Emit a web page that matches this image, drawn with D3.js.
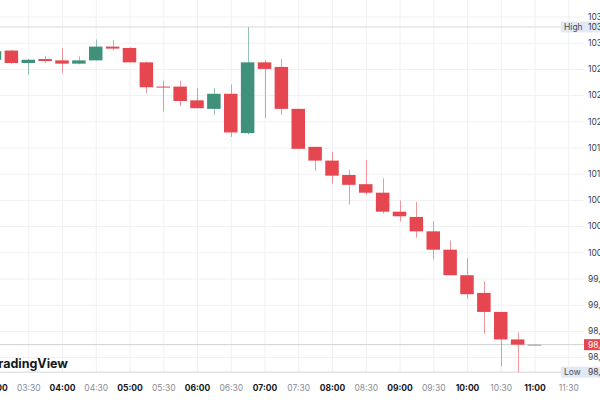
<!DOCTYPE html>
<html><head><meta charset="utf-8">
<script src="https://cdn.jsdelivr.net/npm/d3@7"></script>
<style>html,body{margin:0;padding:0;background:#fff;overflow:hidden}
text{font-family:Inter,"Noto Sans",sans-serif}</style>
</head><body><svg id="c" width="600" height="400"></svg>
<script>
// ---- data (15-minute candles) ----
const times = ["03:00","03:15","03:30","03:45","04:00","04:15","04:30","04:45","05:00","05:15","05:30","05:45","06:00","06:15","06:30","06:45","07:00","07:15","07:30","07:45","08:00","08:15","08:30","08:45","09:00","09:15","09:30","09:45","10:00","10:15","10:30","10:45","11:00"];
const open  = [102.94,103.08,102.89,102.95,102.93,102.88,102.93,103.14,103.12,102.90,102.53,102.53,102.32,102.19,102.42,101.82,102.90,102.83,102.19,101.61,101.40,101.18,101.04,100.91,100.62,100.54,100.32,100.04,99.65,99.38,99.09,98.67,98.59];
const high  = [103.10,103.09,102.95,103.00,103.12,102.99,103.25,103.24,103.13,102.91,102.62,102.62,102.51,102.51,102.56,103.44,102.94,102.95,102.19,101.61,101.53,101.26,101.41,101.13,100.79,100.77,100.47,100.18,99.91,99.56,99.09,98.78,98.60];
const low   = [102.92,102.88,102.71,102.89,102.74,102.87,102.93,103.08,102.90,102.43,102.15,102.23,102.20,102.10,101.76,101.80,102.05,102.10,101.58,101.24,101.05,100.73,100.88,100.59,100.47,100.22,99.89,99.65,99.29,98.76,98.26,98.17,98.59];
const close = [103.07,102.89,102.94,102.92,102.88,102.93,103.14,103.11,102.90,102.52,102.52,102.31,102.20,102.42,101.83,102.90,102.80,102.19,101.58,101.40,101.17,101.03,100.91,100.62,100.55,100.32,100.04,99.65,99.36,99.09,98.67,98.59,98.59];

const priceTicks = [98.4,98.8,99.2,99.6,100.0,100.4,100.8,101.2,101.6,102.0,102.4,102.8,103.2,103.6];
const priceTickLabels = ["98,40","98,80","99,20","99,60","100,00","100,40","100,80","101,20","101,60","102,00","102,40","102,80","103,20","103,60"];
const timeTicks = ["03:00","03:30","04:00","04:30","05:00","05:30","06:00","06:30","07:00","07:30","08:00","08:30","09:00","09:30","10:00","10:30","11:00","11:30"];
const markerNames = ["High","Low"];
const markerValues = [103.44,98.17];
const markerLabels = ["103,44","98,17"];
const lastValue = 98.59;
const lastLabel = "98,59";
const watermark = "TradingView";

// ---- layout ----
const W = 600, H = 400, paneW = 584, paneH = 373;
const UP = "#3f917a", DOWN = "#e5464f", FLAT = "#9a9ca3";
const parse = d3.timeParse("%H:%M");
const x = d3.scaleTime().domain([parse("03:00"), parse("11:30")]).range([-5.5, 568.25]);
const y = d3.scaleLinear().domain([98.4, 103.6]).range([357.1, 16.5]);
const bodyW = (x(parse("03:15")) - x(parse("03:00"))) * 0.8;

const svg = d3.select("#c");
svg.append("rect").attr("width", W).attr("height", H).attr("fill", "#fff");
svg.append("defs").append("clipPath").attr("id", "pane")
  .append("rect").attr("width", paneW).attr("height", paneH);

const pane = svg.append("g").attr("clip-path", "url(#pane)");

// grid
const gx = pane.append("g").attr("transform", `translate(0,${paneH})`)
  .call(d3.axisBottom(x).tickValues(timeTicks.map(parse)).tickSize(-paneH).tickFormat(""));
const gy = pane.append("g")
  .call(d3.axisLeft(y).tickValues(priceTicks).tickSize(-paneW).tickFormat(""));
[gx, gy].forEach(g => { g.select(".domain").remove(); g.selectAll("line").attr("stroke", "#eff0f3").attr("stroke-width", 1); });

// watermark
pane.append("text").attr("x", 68).attr("y", 368).attr("text-anchor", "end")
  .attr("font-size", 12.5).attr("font-weight", 700).attr("fill", "#131722")
  .text(watermark);

// high / low lines and last price line
pane.selectAll("line.hl").data(markerValues).join("line").attr("class", "hl")
  .attr("x1", 0).attr("x2", paneW).attr("y1", d => y(d)).attr("y2", d => y(d))
  .attr("stroke", "#e2e4ea").attr("stroke-width", 1.5);
pane.append("line").attr("x1", 0).attr("x2", paneW).attr("y1", y(lastValue)).attr("y2", y(lastValue))
  .attr("stroke", "#cfd0d4").attr("stroke-width", 1);

// candles
const candles = times.map((t, i) => ({ t: parse(t), o: open[i], h: high[i], l: low[i], c: close[i] }));
const col = d => d.c > d.o ? UP : d.c < d.o ? DOWN : FLAT;
const cg = pane.append("g");
cg.selectAll("line.wick").data(candles).join("line").attr("class", "wick")
  .attr("x1", d => Math.round(x(d.t)) + 0.5).attr("x2", d => Math.round(x(d.t)) + 0.5)
  .attr("y1", d => y(d.h)).attr("y2", d => y(d.l))
  .attr("stroke", col).attr("stroke-opacity", 0.55).attr("stroke-width", 1);
cg.selectAll("rect.body").data(candles).join("rect").attr("class", "body")
  .attr("x", d => x(d.t) - bodyW / 2).attr("width", bodyW)
  .attr("y", d => y(Math.max(d.o, d.c)))
  .attr("height", d => Math.max(1, Math.abs(y(d.o) - y(d.c))))
  .attr("fill", col);

// price axis
const ay = svg.append("g").attr("transform", `translate(${paneW},0)`)
  .call(d3.axisRight(y).tickValues(priceTicks).tickSize(0).tickPadding(4).tickFormat((d, i) => priceTickLabels[i]));
ay.select(".domain").remove();
ay.selectAll("text").attr("font-size", 8.5).attr("fill", "#3b3f4a").style("font-family", "Inter,sans-serif");

// time axis
const ax = svg.append("g").attr("transform", `translate(0,382)`)
  .call(d3.axisBottom(x).tickValues(timeTicks.map(parse)).tickSize(0).tickPadding(3).tickFormat(d3.timeFormat("%H:%M")));
ax.select(".domain").remove();
ax.selectAll("text").attr("font-size", 8.5).style("font-family", "Inter,sans-serif")
  .attr("font-weight", d => d.getMinutes() === 0 ? 700 : 400)
  .attr("fill", d => d.getMinutes() === 0 ? "#131722" : "#8a8d96");

// high / low labels
const ml = svg.selectAll("g.ml").data(markerValues).join("g").attr("class", "ml")
  .attr("transform", d => `translate(0,${y(d)})`);
ml.append("rect").attr("x", 561).attr("y", -5.5).attr("width", 40).attr("height", 11).attr("fill", "#e3e9f3");
ml.append("text").attr("x", 564).attr("dy", "0.35em").attr("font-size", 8.5).attr("fill", "#3f4a5e")
  .text((d, i) => markerNames[i]);
ml.append("text").attr("x", 588).attr("dy", "0.35em").attr("font-size", 8.5).attr("fill", "#3b3f4a")
  .text((d, i) => markerLabels[i]);

// last price label
const lp = svg.append("g").attr("transform", `translate(0,${y(lastValue)})`);
lp.append("rect").attr("x", 584).attr("y", -5.5).attr("width", 17).attr("height", 11).attr("fill", DOWN);
lp.append("text").attr("x", 588).attr("dy", "0.35em").attr("font-size", 8.5).attr("fill", "#fff").text(lastLabel);
</script>
</body></html>
